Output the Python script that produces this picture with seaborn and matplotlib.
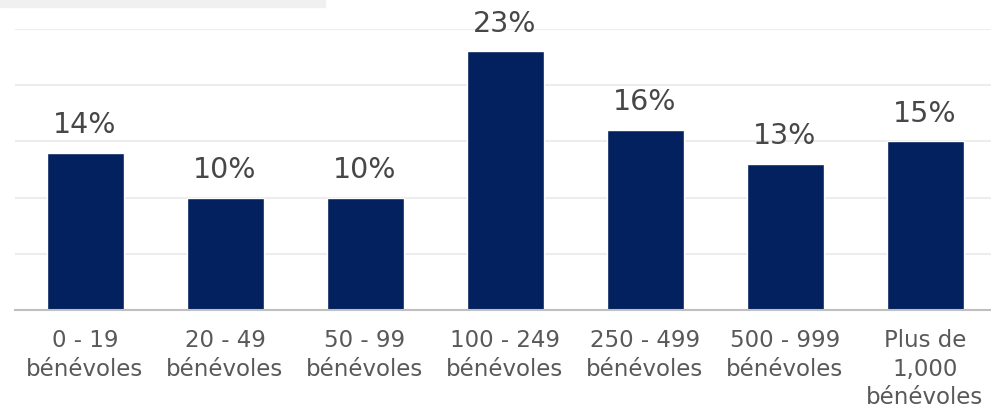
import matplotlib
matplotlib.use("Agg")
import matplotlib.pyplot as plt
import seaborn as sns
import pandas as pd
from matplotlib.patches import Rectangle

# =====================================================
# Données
# =====================================================

categories = [
    "0 - 19\nbénévoles",
    "20 - 49\nbénévoles",
    "50 - 99\nbénévoles",
    "100 - 249\nbénévoles",
    "250 - 499\nbénévoles",
    "500 - 999\nbénévoles",
    "Plus de\n1,000\nbénévoles",
]

pourcentages = [14, 10, 10, 23, 16, 13, 15]

df = pd.DataFrame({"taille": categories, "pct": pourcentages})

# =====================================================
# Style
# =====================================================

sns.set_style("white")
plt.rcParams["font.family"] = ["DejaVu Sans"]

bar_color = "#03215E"
text_color = "#595959"

fig = plt.figure(figsize=(9.91, 4.12), dpi=100)
ax = fig.add_axes([15 / 991, 102 / 412, 980 / 991, 281 / 412])

sns.barplot(
    data=df,
    x="taille",
    y="pct",
    color=bar_color,
    width=0.55,
    saturation=1,
    ax=ax
)

ax.set_ylim(0, 25)
ax.set_xlim(-0.5, len(categories) - 0.5)
ax.set_yticks([0, 5, 10, 15, 20, 25])
ax.set_yticklabels([])
ax.yaxis.grid(True, color="#EDEDED", linewidth=1.5)
ax.set_axisbelow(True)

for side in ["top", "right", "left"]:
    ax.spines[side].set_visible(False)
ax.spines["bottom"].set_color("#BFBFBF")
ax.spines["bottom"].set_linewidth(1.5)

ax.tick_params(axis="both", length=0)
ax.tick_params(axis="x", pad=14, labelsize=16.5, labelcolor=text_color)
for lbl in ax.get_xticklabels():
    lbl.set_linespacing(1.3)

ax.set_xlabel("")
ax.set_ylabel("")

# Étiquettes de valeurs
for i, v in enumerate(pourcentages):
    ax.annotate(
        f"{v}%",
        xy=(i, v),
        xytext=(0, 10),
        textcoords="offset points",
        ha="center",
        va="bottom",
        fontsize=20.5,
        color="#474747"
    )

# Bandeau gris en haut à gauche
fig.patches.append(
    Rectangle((0, 405 / 412), 325 / 991, 7 / 412,
              transform=fig.transFigure, color="#F0F0F0", zorder=0)
)

fig.savefig("out.png", dpi=100, facecolor="white")
